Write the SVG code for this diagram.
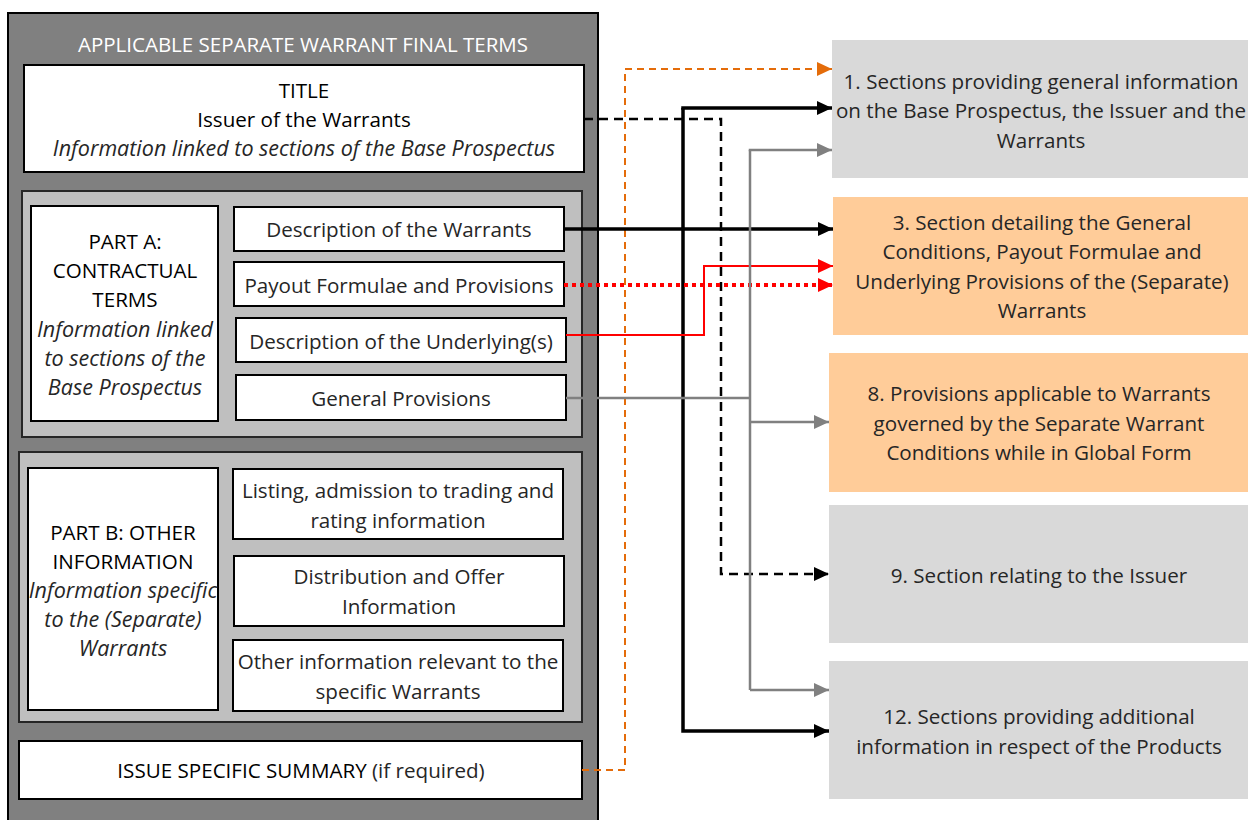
<svg xmlns="http://www.w3.org/2000/svg" width="1248" height="820" viewBox="0 0 1248 820">
<style>
text{font-family:"Open Sans","Noto Sans","Liberation Sans",sans-serif;text-anchor:middle}
.h{font-size:20.6px;fill:#000}
.t{font-size:20.6px;fill:#262626}
.i{font-size:21.5px;fill:#262626;font-style:italic}
.r{font-size:20.6px;fill:#262626}
.w{fill:#fff;stroke:#000;stroke-width:2}
.pane{fill:#bfbfbf;stroke:#262626;stroke-width:2}
.gray{fill:#d9d9d9}
.peach{fill:#ffcc99}
</style>
<defs>
<marker id="ak" markerUnits="userSpaceOnUse" markerWidth="16" markerHeight="16" refX="15" refY="8" orient="auto"><path d="M0,1 L15,8 L0,15 z" fill="#000"/></marker>
<marker id="ag" markerUnits="userSpaceOnUse" markerWidth="16" markerHeight="16" refX="15" refY="8" orient="auto"><path d="M0,1 L15,8 L0,15 z" fill="#808080"/></marker>
<marker id="ar" markerUnits="userSpaceOnUse" markerWidth="16" markerHeight="16" refX="15" refY="8" orient="auto"><path d="M0,1 L15,8 L0,15 z" fill="#ff0000"/></marker>
<marker id="ao" markerUnits="userSpaceOnUse" markerWidth="16" markerHeight="16" refX="15" refY="8" orient="auto"><path d="M0,1 L15,8 L0,15 z" fill="#e46c0a"/></marker>
</defs>
<rect width="1248" height="820" fill="#fff"/>

<g id="final-terms">
<rect x="8" y="13" width="590" height="812" fill="#808080" stroke="#000" stroke-width="2"/>
<text x="303" y="52" style="font-size:20.5px;fill:#fff">APPLICABLE SEPARATE WARRANT FINAL TERMS</text>
</g>

<g id="title">
<rect class="w" x="24" y="65" width="560" height="107"/>
<text class="h" x="304" y="98">TITLE</text>
<text class="h" x="304" y="127">Issuer of the Warrants</text>
<text class="i" x="304" y="156">Information linked to sections of the Base Prospectus</text>
</g>

<g id="part-a">
<rect class="pane" x="22" y="191" width="560" height="246"/>
<rect class="w" x="31" y="206" width="187" height="215"/>
<text class="h" x="125" y="249">PART A:</text>
<text class="h" x="125" y="278">CONTRACTUAL</text>
<text class="h" x="125" y="307">TERMS</text>
<text class="i" x="125" y="337">Information linked</text>
<text class="i" x="125" y="366">to sections of the</text>
<text class="i" x="125" y="395">Base Prospectus</text>
</g>
<g id="desc-warrants"><rect class="w" x="234" y="207" width="330" height="44"/><text class="t" x="399" y="237">Description of the Warrants</text></g>
<g id="payout"><rect class="w" x="234" y="262" width="330" height="44"/><text class="t" x="399" y="293">Payout Formulae and Provisions</text></g>
<g id="underlying"><rect class="w" x="236" y="318" width="330" height="44"/><text class="t" x="401" y="349">Description of the Underlying(s)</text></g>
<g id="general"><rect class="w" x="236" y="375" width="330" height="45"/><text class="t" x="401" y="406">General Provisions</text></g>

<g id="part-b">
<rect class="pane" x="19" y="452" width="563" height="270"/>
<rect class="w" x="28" y="468" width="190" height="242"/>
<text class="h" x="123" y="540">PART B: OTHER</text>
<text class="h" x="123" y="569">INFORMATION</text>
<text class="i" x="123" y="598">Information specific</text>
<text class="i" x="123" y="627">to the (Separate)</text>
<text class="i" x="123" y="656">Warrants</text>
</g>
<g id="listing"><rect class="w" x="233" y="469" width="330" height="70"/><text class="t" x="398" y="498">Listing, admission to trading and</text><text class="t" x="398" y="528">rating information</text></g>
<g id="distribution"><rect class="w" x="234" y="556" width="330" height="70"/><text class="t" x="399" y="584">Distribution and Offer</text><text class="t" x="399" y="614">Information</text></g>
<g id="other-info"><rect class="w" x="233" y="640" width="330" height="71"/><text class="t" x="398" y="669">Other information relevant to the</text><text class="t" x="398" y="699">specific Warrants</text></g>

<g id="summary"><rect class="w" x="19" y="741" width="563" height="58"/><text x="301" y="778" style="font-size:20.6px"><tspan fill="#000">ISSUE SPECIFIC SUMMARY</tspan><tspan fill="#262626"> (if required)</tspan></text></g>

<g id="s1"><rect class="gray" x="832" y="40" width="416" height="138"/>
<text class="r" x="1041" y="89">1. Sections providing general information</text>
<text class="r" x="1041" y="118">on the Base Prospectus, the Issuer and the</text>
<text class="r" x="1041" y="148">Warrants</text></g>
<g id="s3"><rect class="peach" x="833" y="197" width="415" height="138"/>
<text class="r" x="1042" y="230">3. Section detailing the General</text>
<text class="r" x="1042" y="259">Conditions, Payout Formulae and</text>
<text class="r" x="1042" y="289">Underlying Provisions of the (Separate)</text>
<text class="r" x="1042" y="318">Warrants</text></g>
<g id="s8"><rect class="peach" x="829" y="353" width="419" height="139"/>
<text class="r" x="1039" y="401">8. Provisions applicable to Warrants</text>
<text class="r" x="1039" y="431">governed by the Separate Warrant</text>
<text class="r" x="1039" y="460">Conditions while in Global Form</text></g>
<g id="s9"><rect class="gray" x="829" y="505" width="419" height="138"/>
<text class="r" x="1039" y="583">9. Section relating to the Issuer</text></g>
<g id="s12"><rect class="gray" x="829" y="661" width="419" height="138"/>
<text class="r" x="1039" y="724">12. Sections providing additional</text>
<text class="r" x="1039" y="754">information in respect of the Products</text></g>

<g id="connectors" fill="none">
<path d="M582,770 H625 V69 H832" stroke="#e46c0a" stroke-width="2" stroke-dasharray="7,5" marker-end="url(#ao)"/>
<path d="M584,119 H721 V574 H829" stroke="#000" stroke-width="2.5" stroke-dasharray="9,6" marker-end="url(#ak)"/>
<path d="M683,108 V731 H829" stroke="#000" stroke-width="3.5" marker-end="url(#ak)"/>
<path d="M681.25,108 H832" stroke="#000" stroke-width="3.5" marker-end="url(#ak)"/>
<path d="M564,229 H833" stroke="#000" stroke-width="3.5" marker-end="url(#ak)"/>
<path d="M566,335 H704 V266 H833" stroke="#ff0000" stroke-width="2" marker-end="url(#ar)"/>
<path d="M564,285 H833" stroke="#ff0000" stroke-width="4" stroke-dasharray="4,4" marker-end="url(#ar)"/>
<path d="M566,398 H750" stroke="#808080" stroke-width="2.5"/>
<path d="M750,150 V690" stroke="#808080" stroke-width="2.5"/>
<path d="M748.75,150 H832" stroke="#808080" stroke-width="2.5" marker-end="url(#ag)"/>
<path d="M750,422 H829" stroke="#808080" stroke-width="2.5" marker-end="url(#ag)"/>
<path d="M750,690 H829" stroke="#808080" stroke-width="2.5" marker-end="url(#ag)"/>
</g>
</svg>
